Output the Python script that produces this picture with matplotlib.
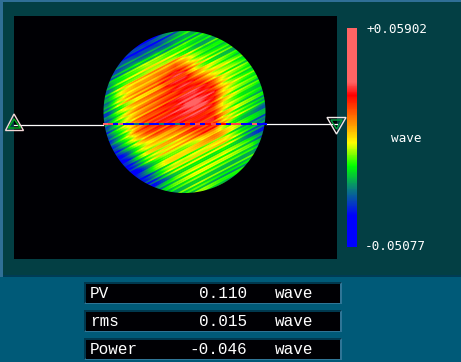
import numpy as np
import matplotlib
matplotlib.use('Agg')
import matplotlib.pyplot as plt
from matplotlib.colors import LinearSegmentedColormap
from matplotlib.patches import PathPatch, Polygon, Rectangle
from matplotlib.path import Path
from matplotlib.transforms import Affine2D

# surface height in milliwaves (17 x 17 over the disc)
surface = [
    [-36, -36, -36, -36, -36, -32, -26, -20, -14, -13, -13, -13, -13, -13, -13, -13, -13],
    [-36, -36, -36, -36, -36, -30, -22, -13, -9, -12, -14, -12, -12, -13, -13, -13, -13],
    [-36, -36, -36, -32, -22, -10, -7, -3, -2, -5, -7, -8, -9, -10, -12, -13, -13],
    [-36, -30, -21, -11, -3, 1, 5, 14, 12, 4, 0, -2, -3, -5, -8, -12, -13],
    [-28, -20, -9, -3, 4, 10, 16, 25, 25, 14, 8, 2, -2, -5, -8, -10, -13],
    [-22, -8, 0, 7, 10, 13, 22, 25, 25, 22, 22, 18, 4, -3, -7, -10, -14],
    [-20, -5, 5, 9, 11, 14, 17, 20, 25, 30, 28, 24, 4, -3, -8, -11, -16],
    [-20, -4, 4, 8, 11, 15, 20, 24, 33, 36, 30, 20, 3, -3, -8, -12, -18],
    [-22, -7, 1, 8, 14, 18, 22, 26, 28, 28, 25, 20, 4, -3, -8, -13, -20],
    [-24, -9, 1, 12, 20, 24, 25, 24, 23, 24, 23, 22, 5, -3, -11, -18, -24],
    [-26, -12, -2, 12, 17, 18, 14, 12, 14, 17, 19, 15, 4, -5, -13, -20, -26],
    [-30, -18, -7, 0, 6, 6, 4, 5, 6, 6, 6, 4, 2, -4, -11, -16, -24],
    [-34, -30, -20, -7, 0, 0, 2, 2, 0, 0, -2, -3, -3, -8, -12, -12, -18],
    [-38, -38, -34, -20, -9, -4, 0, 0, -3, -2, -4, -6, -8, -11, -12, -12, -18],
    [-38, -38, -38, -32, -22, -12, -7, -4, -5, -5, -6, -8, -11, -13, -14, -16, -18],
    [-38, -38, -38, -38, -32, -26, -18, -12, -9, -7, -8, -11, -14, -16, -18, -18, -18],
    [-38, -38, -38, -38, -32, -26, -18, -12, -10, -8, -8, -11, -14, -16, -18, -18, -18],
]
# height offset of each polish streak across the disc, milliwaves
streaks = [5, 5, -6, 2, -8, -8, 4, 1, -3, 7, 7, -7, 2, 0, 6, -5, -5, 3, -8, 5,
           0, -3, 4, -6, -6, 7, -2, 3, 3, -4, 0, 5, -3, 6, -7, -7, 4, 1, -5, 2,
           6, -3, 0, 3, -6, 5, 1, -2, 4, -5, -1, 6, 0, -3, 4, 2, -6, 5, 2, -4,
           -4, 3, 0, -6, 6, 6, -5, 3, -2, 7, -3, -7, -7, 3, 5, 5, -8, 2, 0, 7,
           -6, 4, -8, -8, 3, 6, -4, 7, 7, -3, 4, -7, -7, 6, -5, 2, -8, 5, 5, -3,
           7, -6, 3, -5, 6, -7, 3, 3]
# colours along the section line, milliwaves
profile = [35, 30, -45, 35, -40, -45, -22, -45, -22, -45, -45, -22, -45, -45, -22, -45,
           25, -45, 30, -45, 25, 30, -45, 25, -45, 30, 30, -45, -45, 35, -45, -45]
scale_top = '+0.05902'
scale_bottom = '-0.05077'
unit = 'wave'
stat_names = ['PV', 'rms', 'Power']
stat_values = ['0.110', '0.015', '-0.046']

vmin, vmax = -50.77, 59.02

wave_cmap = LinearSegmentedColormap.from_list('wave', [
    (0.0, '#0000ff'), (0.14, '#0000ff'), (0.26, '#0a7a80'), (0.37, '#00ff00'),
    (0.475, '#ffff00'), (0.56, '#ff9900'), (0.695, '#ff0000'), (0.755, '#ff6464'), (1.0, '#ff6464')])

fig = plt.figure(figsize=(4.61, 3.62), dpi=100, facecolor='#005a78')
ax = fig.add_axes([0, 0, 1, 1])
ax.axis('off')

# panels
ax.add_patch(Rectangle((0, 0), 461, 2, color='#2f6f96', lw=0))
ax.add_patch(Rectangle((0, 2), 3, 275, color='#2f6f96', lw=0))
ax.add_patch(Rectangle((3, 2), 458, 273, color='#033f44', lw=0))
ax.add_patch(Rectangle((3, 275), 458, 2, color='#003c55', lw=0))

# disc, one clipped copy of the surface per streak, black panel with a round hole on top
grid = np.array(surface, dtype=float)
disc_extent = (103, 266, 194, 31)
ax.imshow(grid, cmap=wave_cmap, vmin=vmin, vmax=vmax, extent=disc_extent,
          interpolation='bilinear', aspect='auto', zorder=2)
to_disc = Affine2D().rotate_deg(-27.5).translate(184.5, 112) + ax.transData
band_edges = np.linspace(-95, 95, len(streaks) + 1)
for j, offset in enumerate(streaks):
    band = Polygon([(-120, band_edges[j]), (120, band_edges[j]),
                    (120, band_edges[j + 1]), (-120, band_edges[j + 1])], transform=to_disc)
    im = ax.imshow(grid + offset, cmap=wave_cmap, vmin=vmin, vmax=vmax, extent=disc_extent,
                   interpolation='bilinear', aspect='auto', zorder=2.1)
    im.set_clip_path(band)

theta = np.linspace(0, 2 * np.pi, 241)
hole = np.column_stack([184.5 + 81 * np.cos(theta), 112 + 81 * np.sin(theta)])[::-1]
frame = np.array([(14, 16), (337, 16), (337, 259), (14, 259), (14, 16)], dtype=float)
mask_codes = [Path.MOVETO] + [Path.LINETO] * 4 + [Path.MOVETO] + [Path.LINETO] * (len(hole) - 1)
mask = Path(np.vstack([frame, hole]), mask_codes)
ax.add_patch(PathPatch(mask, fc='#000004', ec='none', lw=0, zorder=3))

# section line and markers
ax.plot([14, 103], [124.5, 124.5], color='white', lw=0.9, zorder=4)
ax.plot([266, 337], [123.5, 123.5], color='white', lw=0.9, zorder=4)
ax.imshow(np.array(profile).reshape(1, -1), cmap=wave_cmap, vmin=vmin, vmax=vmax,
          extent=(103, 266, 124.7, 123.3), interpolation='nearest', aspect='auto', zorder=4)
ax.add_patch(Polygon([(14, 114), (5.5, 130.5), (23.5, 130.5)], fill=False, ec='#f4d8d8', lw=1, zorder=5))
ax.add_patch(Polygon([(14, 119), (8.5, 128), (20.5, 128)], fill=False, ec='#00b020', lw=1, zorder=5))
ax.add_patch(Polygon([(336.5, 134), (327, 117.5), (346, 117.5)], fill=False, ec='#f0e8e8', lw=1, zorder=5))
ax.add_patch(Polygon([(336.5, 129), (331, 120), (342, 120)], fill=False, ec='#00a040', lw=1, zorder=5))

# colour scale
ramp = np.linspace(vmax, vmin, 219).reshape(-1, 1)
ax.imshow(ramp, cmap=wave_cmap, vmin=vmin, vmax=vmax, extent=(347, 357, 247, 28),
          interpolation='nearest', aspect='auto', zorder=2)
ax.text(366, 29.5, scale_top, color='white', family='DejaVu Sans Mono', fontsize=9.1, va='center')
ax.text(365, 247, scale_bottom, color='white', family='DejaVu Sans Mono', fontsize=9.1, va='center')
ax.text(391, 139, unit, color='white', family='DejaVu Sans Mono', fontsize=9.1, va='center')

# readouts
for i, (name, val) in enumerate(zip(stat_names, stat_values)):
    y = 282 + i * 28
    ax.add_patch(Rectangle((84, y), 258, 22, color='#2f7596', lw=0))
    ax.add_patch(Polygon([(84, y), (342, y), (340, y + 2), (86, y + 20), (84, y + 22)], color='#00384e', lw=0))
    ax.add_patch(Rectangle((85.5, y + 1.5), 254, 19, color='#000004', lw=0))
    ax.text(90, y + 11, name, color='white', family='Liberation Mono', fontsize=11.5, va='center')
    ax.text(247, y + 11, val, color='white', family='Liberation Mono', fontsize=11.5, va='center', ha='right')
    ax.text(275, y + 11, unit, color='white', family='Liberation Mono', fontsize=11.5, va='center')

ax.set_xlim(0, 461)
ax.set_ylim(362, 0)
fig.savefig('out.png', dpi=100, facecolor=fig.get_facecolor())
